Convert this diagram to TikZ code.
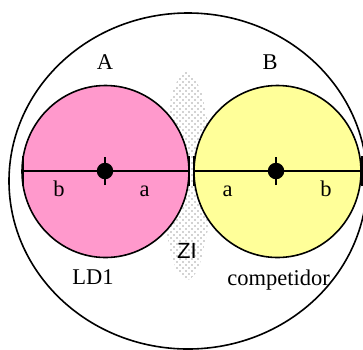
\documentclass[tikz,border=0pt]{standalone}
\usepackage{fontspec}
\setmainfont{Liberation Serif}
\newfontfamily\zisans{Liberation Sans}
\usetikzlibrary{patterns,shapes.geometric}
\definecolor{pinkfill}{HTML}{FF99CC}
\definecolor{yellowfill}{HTML}{FFFF99}
\pgfdeclarepatternformonly{zidots}{\pgfqpoint{-1pt}{-1pt}}{\pgfqpoint{5pt}{5pt}}{\pgfqpoint{6pt}{6pt}}{%
  \pgfpathcircle{\pgfqpoint{0pt}{0pt}}{0.8pt}%
  \pgfpathcircle{\pgfqpoint{3pt}{3pt}}{0.8pt}%
  \pgfusepath{fill}}
\begin{document}
\begin{tikzpicture}[x=1pt,y=-1pt,
  lbl/.style={font=\fontsize{22.5}{24}\selectfont, anchor=base, inner sep=0pt},
  disc/.style={ellipse, draw, line width=1.6pt, minimum width=167pt, minimum height=172pt, inner sep=0pt},
  hub/.style={circle, fill=black, minimum size=16.5pt, inner sep=0pt},
  axis/.style={line width=1.6pt},
  bar/.style={line width=2.2pt}]
\useasboundingbox (0,0) rectangle (363,349);
\clip (0,0) rectangle (363,349);
% interaction zone
\path[pattern=zidots, pattern color=black!35] (187,176) ellipse [x radius=24, y radius=104];
% outer ellipse
\draw[line width=1.6pt] (188,181) ellipse [x radius=179, y radius=168];
% discs
\node[disc, fill=pinkfill] (pink) at (105.5,171.5) {};
\node[disc, fill=yellowfill] (yellow) at (277.5,171.5) {};
% axes
\coordinate (l1) at (23,171); \coordinate (l2) at (189,171);
\coordinate (r1) at (194,171); \coordinate (r2) at (362,171);
\draw[axis] (l1) -- (l2);
\draw[axis] (r1) -- (r2);
\draw[bar] ([yshift=-15pt]l1) -- ([yshift=15pt]l1);
\draw[line width=1.8pt] ([yshift=-15pt]l2) -- ([yshift=15pt]l2);
\draw[line width=1.8pt] ([yshift=-15pt]r1) -- ([yshift=15pt]r1);
\draw[bar] ([yshift=-15pt]r2) -- ([yshift=15pt]r2);
% hubs
\node[hub] (hA) at (105,171) {};
\node[hub] (hB) at (276,171) {};
\draw[line width=1.5pt] ([yshift=-14pt]hA.center) -- ([yshift=14pt]hA.center);
\draw[line width=1.5pt] ([yshift=-14pt]hB.center) -- ([yshift=14pt]hB.center);
% labels
\node[lbl] (A) at (105,69) {A};
\node[lbl] (B) at (270,69) {B};
\node[lbl] (bL) at (59,196) {b};
\node[lbl] (aL) at (144.5,196) {a};
\node[lbl] (aR) at (227.5,196) {a};
\node[lbl] (bR) at (326,196) {b};
\node[lbl] (LD) at (93,284) {LD1};
\node[lbl] (comp) at (278.5,285) {competidor};
\node[lbl, font=\zisans\fontsize{22}{24}\selectfont] (ZI) at (187,258) {ZI};
\end{tikzpicture}
\end{document}
